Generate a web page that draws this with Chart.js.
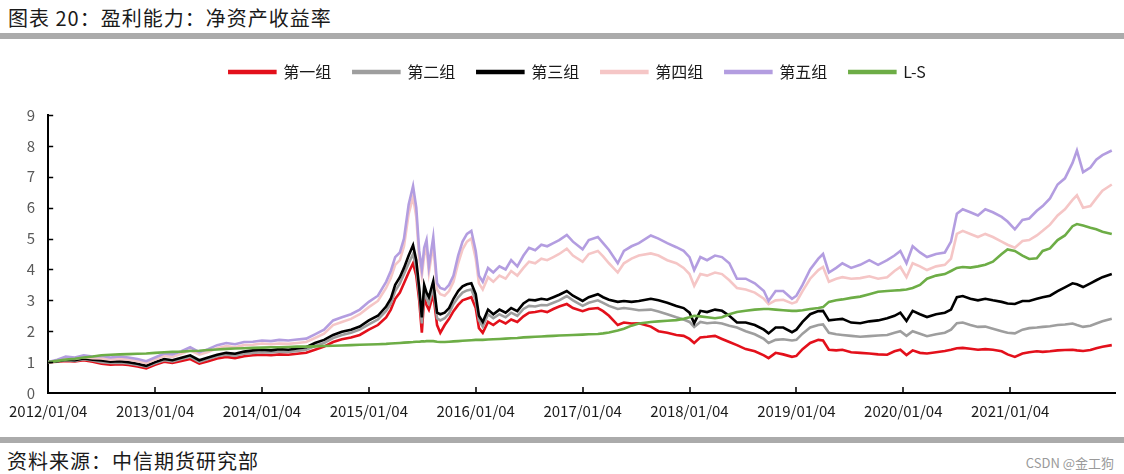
<!DOCTYPE html>
<html>
<head>
<meta charset="utf-8">
<script src="https://cdn.jsdelivr.net/npm/chart.js@4.4.0/dist/chart.umd.min.js"></script>
<style>
html,body{margin:0;padding:0;background:#fff;}
body{width:1124px;height:474px;position:relative;overflow:hidden;font-family:"Noto Sans CJK SC","Noto Sans",sans-serif;}
#title{position:absolute;left:8px;top:5px;font-size:20px;letter-spacing:1px;color:#1a1a1a;line-height:26px;white-space:nowrap;}
#bar1{position:absolute;left:0;top:33px;width:1124px;height:6px;background:#ababab;}
#bar2{position:absolute;left:0;top:437px;width:1124px;height:6px;background:#ababab;}
#src{position:absolute;left:7px;top:448px;font-size:20px;letter-spacing:1px;color:#1a1a1a;line-height:26px;white-space:nowrap;}
#wm{position:absolute;right:10px;top:454px;font-size:13px;color:#9a9a9a;line-height:18px;white-space:nowrap;}
#wrap{position:absolute;left:0;top:40px;width:1124px;height:392px;}
</style>
</head>
<body>
<div id="title">图表 20：盈利能力：净资产收益率</div>
<div id="bar1"></div>
<div id="wrap"><canvas id="c"></canvas></div>
<div id="bar2"></div>
<div id="src">资料来源：中信期货研究部</div>
<div id="wm">CSDN @金工狗</div>
<script>
const seriesNames = ["第一组","第二组","第三组","第四组","第五组","L-S"];
const tickLabels = ["2012/01/04","2013/01/04","2014/01/04","2015/01/04","2016/01/04","2017/01/04","2018/01/04","2019/01/04","2020/01/04","2021/01/04"];
const yTicks = [0,1,2,3,4,5,6,7,8,9];
const xEnd = "2021/12/28";

const dates = [
"2012/01/04","2012/02/04","2012/03/04","2012/04/04","2012/05/04","2012/06/04","2012/07/04","2012/08/04","2012/09/04","2012/10/04","2012/11/04","2012/12/04",
"2013/01/04","2013/02/04","2013/03/04","2013/04/04","2013/05/04","2013/06/04","2013/07/04","2013/08/04","2013/09/04","2013/10/04","2013/11/04","2013/12/04",
"2014/01/04","2014/02/04","2014/03/04","2014/04/04","2014/05/04","2014/06/04","2014/07/04","2014/08/04","2014/09/04","2014/10/04","2014/11/04","2014/12/04",
"2015/01/04","2015/02/04","2015/03/04","2015/03/20","2015/04/04","2015/04/20","2015/05/04","2015/05/20","2015/06/04","2015/06/15","2015/06/25","2015/07/04",
"2015/07/12","2015/07/20","2015/07/28","2015/08/12","2015/08/25","2015/09/05","2015/09/20","2015/10/05","2015/10/20","2015/11/05","2015/11/20","2015/12/05","2015/12/20",
"2016/01/04","2016/01/15","2016/01/28","2016/02/15","2016/03/04","2016/03/25","2016/04/15","2016/05/04","2016/05/25","2016/06/15","2016/07/04","2016/07/25",
"2016/08/15","2016/09/04","2016/09/25","2016/10/15","2016/11/10","2016/12/01",
"2017/01/04","2017/01/25","2017/02/25","2017/03/15","2017/04/04","2017/05/04","2017/05/25","2017/06/20","2017/07/15","2017/08/25","2017/09/20","2017/10/20","2017/11/20","2017/12/15",
"2018/01/04","2018/01/20","2018/02/10","2018/03/05","2018/04/01","2018/04/25","2018/05/20","2018/06/15","2018/07/15","2018/08/15","2018/09/15","2018/10/01","2018/10/25","2018/11/20","2018/12/20",
"2019/01/04","2019/01/25","2019/02/20","2019/03/20","2019/04/05","2019/04/25","2019/05/20","2019/06/10","2019/07/10","2019/08/10","2019/09/10","2019/10/10","2019/11/10","2019/12/05","2019/12/25",
"2020/01/15","2020/02/05","2020/03/01","2020/03/25","2020/04/25","2020/05/25","2020/06/15","2020/07/05","2020/07/25","2020/08/20","2020/09/15","2020/10/10","2020/11/05","2020/12/05","2020/12/25",
"2021/01/20","2021/02/15","2021/03/10","2021/04/05","2021/04/25","2021/05/20","2021/06/15","2021/07/10","2021/08/05","2021/08/20","2021/09/10","2021/10/05","2021/10/25","2021/11/15","2021/12/17"
];

const group1 = [
1.00,1.01,1.04,1.02,1.06,1.01,0.95,0.92,0.93,0.91,0.86,0.80,
0.91,1.01,0.97,1.04,1.10,0.95,1.03,1.12,1.17,1.13,1.19,1.22,
1.24,1.22,1.25,1.24,1.27,1.30,1.40,1.50,1.65,1.74,1.80,1.88,
2.05,2.20,2.45,2.70,3.05,3.25,3.55,3.90,4.20,3.80,3.00,1.95,
3.10,2.85,2.70,3.20,2.20,1.95,2.20,2.40,2.65,2.85,3.00,3.05,3.10,
2.75,2.10,1.95,2.30,2.20,2.35,2.25,2.38,2.30,2.48,2.60,2.62,
2.66,2.62,2.72,2.80,2.88,2.75,
2.65,2.72,2.75,2.65,2.50,2.20,2.28,2.25,2.26,2.15,2.00,1.95,1.88,1.85,
1.75,1.62,1.80,1.82,1.85,1.75,1.65,1.55,1.42,1.35,1.22,1.13,1.30,1.25,1.17,
1.20,1.42,1.62,1.72,1.70,1.40,1.38,1.40,1.32,1.30,1.28,1.25,1.24,1.35,1.40,
1.23,1.38,1.30,1.28,1.32,1.36,1.40,1.45,1.46,1.43,1.40,1.42,1.40,1.35,1.25,
1.17,1.28,1.32,1.35,1.33,1.35,1.38,1.39,1.40,1.38,1.36,1.39,1.45,1.50,1.55
];
const group2 = [
1.00,1.02,1.06,1.04,1.09,1.05,1.00,0.97,0.98,0.96,0.91,0.85,
0.96,1.06,1.02,1.10,1.17,1.01,1.10,1.19,1.24,1.21,1.27,1.30,
1.32,1.31,1.34,1.33,1.36,1.40,1.52,1.62,1.78,1.88,1.95,2.05,
2.22,2.38,2.66,2.90,3.30,3.55,3.85,4.20,4.50,4.05,3.20,2.25,
3.30,3.05,2.90,3.40,2.42,2.35,2.42,2.58,2.88,3.10,3.25,3.32,3.35,
3.00,2.35,2.15,2.55,2.42,2.55,2.45,2.60,2.50,2.72,2.82,2.80,
2.85,2.84,2.92,3.00,3.14,3.00,
2.82,2.92,3.00,2.92,2.82,2.72,2.75,2.72,2.68,2.70,2.64,2.55,2.45,2.38,
2.30,2.14,2.30,2.26,2.28,2.25,2.18,2.12,2.00,1.90,1.75,1.62,1.72,1.74,1.70,
1.72,1.92,2.12,2.20,2.22,1.95,1.90,1.88,1.85,1.82,1.84,1.86,1.88,1.95,2.00,
1.85,2.00,1.92,1.84,1.90,1.95,2.05,2.26,2.28,2.20,2.14,2.15,2.08,2.00,1.95,
1.93,2.05,2.10,2.12,2.14,2.16,2.20,2.22,2.25,2.20,2.14,2.18,2.25,2.32,2.40
];
const group3 = [
1.00,1.03,1.08,1.06,1.12,1.08,1.05,1.01,1.03,1.00,0.95,0.88,
1.00,1.10,1.06,1.14,1.22,1.06,1.15,1.24,1.30,1.27,1.34,1.38,
1.40,1.38,1.42,1.40,1.44,1.48,1.62,1.72,1.88,1.98,2.05,2.15,
2.35,2.50,2.80,3.05,3.50,3.75,4.05,4.45,4.78,4.30,3.40,2.45,
3.50,3.25,3.10,3.62,2.60,2.55,2.60,2.75,3.05,3.30,3.45,3.52,3.55,
3.20,2.50,2.30,2.70,2.55,2.70,2.60,2.75,2.65,2.90,3.02,3.00,
3.05,3.02,3.10,3.18,3.30,3.15,
2.98,3.10,3.20,3.10,3.02,2.95,2.98,2.95,2.98,3.05,3.00,2.92,2.82,2.75,
2.60,2.26,2.66,2.62,2.70,2.66,2.50,2.28,2.28,2.20,2.05,1.93,2.12,2.12,1.97,
2.05,2.30,2.55,2.65,2.66,2.35,2.38,2.40,2.28,2.26,2.32,2.35,2.42,2.50,2.60,
2.33,2.66,2.55,2.46,2.55,2.60,2.70,3.10,3.14,3.05,3.00,3.05,3.00,2.95,2.90,
2.88,2.98,2.98,3.05,3.10,3.15,3.30,3.42,3.55,3.52,3.43,3.55,3.65,3.75,3.85
];
const group4 = [
1.00,1.05,1.12,1.10,1.16,1.13,1.12,1.08,1.10,1.08,1.03,0.97,
1.08,1.20,1.17,1.27,1.38,1.24,1.33,1.45,1.52,1.48,1.55,1.56,
1.60,1.58,1.60,1.59,1.62,1.65,1.78,1.92,2.20,2.30,2.40,2.55,
2.78,2.98,3.40,3.72,4.15,4.30,4.75,5.80,6.35,5.70,4.35,3.80,
4.45,4.70,3.90,4.80,3.35,3.20,3.15,3.30,3.60,4.20,4.65,4.90,5.00,
4.35,3.55,3.35,3.75,3.60,3.80,3.70,3.95,3.80,4.05,4.25,4.20,
4.35,4.30,4.40,4.50,4.67,4.45,
4.25,4.50,4.60,4.42,4.20,3.90,4.20,4.35,4.45,4.52,4.45,4.30,4.20,4.05,
3.85,3.47,3.85,3.80,3.90,3.85,3.65,3.40,3.35,3.25,3.05,2.88,3.00,3.02,2.90,
2.95,3.30,3.70,3.98,4.08,3.60,3.70,3.75,3.70,3.72,3.78,3.70,3.75,3.95,4.08,
3.75,4.20,4.10,3.98,4.10,4.15,4.35,5.15,5.25,5.15,5.05,5.15,5.05,4.90,4.80,
4.70,4.92,4.95,5.10,5.25,5.45,5.75,5.95,6.25,6.40,6.00,6.05,6.30,6.55,6.75
];
const group5 = [
1.00,1.08,1.18,1.15,1.22,1.18,1.20,1.15,1.18,1.15,1.10,1.03,
1.15,1.28,1.25,1.35,1.48,1.32,1.42,1.55,1.62,1.58,1.65,1.66,
1.70,1.68,1.72,1.70,1.73,1.76,1.90,2.05,2.35,2.45,2.55,2.70,
2.95,3.15,3.60,3.95,4.40,4.55,5.00,6.10,6.70,6.00,4.60,4.00,
4.70,4.95,4.10,5.05,3.55,3.40,3.35,3.50,3.80,4.45,4.90,5.15,5.25,
4.60,3.80,3.60,4.05,3.90,4.10,4.00,4.30,4.10,4.45,4.70,4.62,
4.80,4.75,4.85,4.95,5.12,4.90,
4.65,4.95,5.05,4.85,4.63,4.20,4.60,4.75,4.85,5.10,5.00,4.85,4.72,4.60,
4.40,3.98,4.40,4.30,4.45,4.40,4.20,3.70,3.70,3.55,3.30,2.98,3.30,3.30,3.05,
3.15,3.50,4.00,4.35,4.50,3.90,4.05,4.20,4.05,4.15,4.30,4.15,4.30,4.45,4.60,
4.20,4.75,4.55,4.40,4.50,4.55,4.90,5.80,5.95,5.85,5.75,5.95,5.85,5.70,5.55,
5.30,5.60,5.65,5.90,6.05,6.30,6.75,6.95,7.45,7.85,7.15,7.30,7.55,7.70,7.85
];
const longShort = [
1.00,1.04,1.08,1.11,1.15,1.18,1.22,1.24,1.25,1.26,1.27,1.28,
1.30,1.32,1.33,1.34,1.36,1.37,1.39,1.41,1.43,1.44,1.45,1.46,
1.47,1.48,1.48,1.49,1.50,1.50,1.51,1.52,1.53,1.54,1.55,1.56,
1.57,1.58,1.59,1.60,1.61,1.62,1.63,1.64,1.65,1.66,1.66,1.67,
1.67,1.68,1.68,1.68,1.66,1.65,1.65,1.66,1.67,1.68,1.69,1.70,1.71,
1.72,1.72,1.72,1.73,1.74,1.75,1.76,1.77,1.78,1.80,1.81,1.82,
1.83,1.84,1.85,1.86,1.87,1.88,
1.89,1.90,1.91,1.93,1.96,2.02,2.08,2.18,2.25,2.30,2.32,2.34,2.36,2.40,
2.45,2.50,2.48,2.45,2.42,2.45,2.55,2.62,2.66,2.70,2.72,2.72,2.70,2.68,2.66,
2.66,2.68,2.72,2.75,2.78,2.95,3.00,3.03,3.08,3.12,3.20,3.28,3.30,3.32,3.33,
3.35,3.40,3.50,3.70,3.80,3.85,3.95,4.05,4.08,4.06,4.10,4.15,4.25,4.50,4.65,
4.60,4.45,4.34,4.36,4.60,4.68,4.95,5.10,5.40,5.47,5.42,5.35,5.30,5.22,5.15
];

const colors = ["#E3101B","#9E9E9E","#000000","#F5C6C6","#B39DE0","#6DAD46"];
const values = [group1, group2, group3, group4, group5, longShort];

function toYear(s){
  const p = s.split("/").map(Number);
  const t0 = Date.UTC(p[0],0,1);
  const t = Date.UTC(p[0],p[1]-1,p[2]);
  return p[0] + (t - t0) / (365 * 864e5);
}
const xs = dates.map(toYear);
const tickPos = tickLabels.map(toYear);

const datasets = values.map((arr, k) => ({
  label: seriesNames[k],
  data: arr.map((v, i) => ({x: xs[i], y: v})),
  borderColor: colors[k],
  backgroundColor: colors[k],
  borderWidth: 2.6,
  pointRadius: 0,
  tension: 0,
  order: 5 - k
}));

const legendPlugin = {
  id: 'legendFix',
  beforeInit(chart){
    const f = chart.legend.fit;
    chart.legend.fit = function(){ f.call(this); this.height = 73; };
  },
  afterLayout(chart){
    const lg = chart.legend, ca = chart.chartArea;
    lg.left = ca.left - 4; lg.right = ca.right - 4;
  }
};

const innerTicks = {
  id: 'innerTicks',
  afterDatasetsDraw(chart){
    const ctx = chart.ctx, x = chart.scales.x, y = chart.scales.y;
    ctx.save();
    ctx.strokeStyle = '#000';
    ctx.lineWidth = 1.5;
    ctx.beginPath();
    yTicks.forEach(v => {
      if (v === 0) return;
      const py = Math.round(y.getPixelForValue(v)) + 0.5;
      ctx.moveTo(x.left, py); ctx.lineTo(x.left + 5, py);
    });
    tickPos.forEach((t, i) => {
      if (i === 0) return;
      const px = Math.round(x.getPixelForValue(t));
      ctx.moveTo(px, y.bottom); ctx.lineTo(px, y.bottom - 6);
    });
    ctx.stroke();
    ctx.restore();
  }
};

new Chart(document.getElementById('c'), {
  type: 'line',
  data: { datasets },
  plugins: [legendPlugin, innerTicks],
  options: {
    responsive: true,
    maintainAspectRatio: false,
    animation: false,
    events: [],
    layout: { autoPadding: false, padding: { left: 12, right: 9, top: 2, bottom: 3 } },
    plugins: {
      tooltip: { enabled: false },
      legend: {
        position: 'top',
        labels: {
          boxWidth: 46, boxHeight: 2, padding: 22,
          color: '#1a1a1a',
          font: { family: '"Noto Sans CJK SC","Noto Sans",sans-serif', size: 16 },
          sort: (a, b) => a.datasetIndex - b.datasetIndex
        }
      }
    },
    scales: {
      x: {
        type: 'linear',
        min: toYear(tickLabels[0]),
        max: toYear(xEnd),
        grid: { display: false, drawTicks: false },
        border: { display: true, color: '#000', width: 2 },
        afterBuildTicks: (s) => { s.ticks = tickPos.map(v => ({ value: v })); },
        ticks: {
          autoSkip: false, maxRotation: 0, padding: 9,
          color: '#1a1a1a',
          font: { family: '"Noto Sans CJK SC","Noto Sans",sans-serif', size: 15 },
          callback: (v, i) => tickLabels[i]
        }
      },
      y: {
        min: 0, max: 9,
        grid: { display: false, drawTicks: false },
        border: { display: true, color: '#000', width: 2 },
        afterBuildTicks: (s) => { s.ticks = yTicks.map(v => ({ value: v })); },
        ticks: {
          padding: 13,
          color: '#595959',
          font: { family: '"Noto Sans CJK SC","Noto Sans",sans-serif', size: 15 },
          callback: (v) => String(v)
        }
      }
    }
  }
});
</script>
</body>
</html>
